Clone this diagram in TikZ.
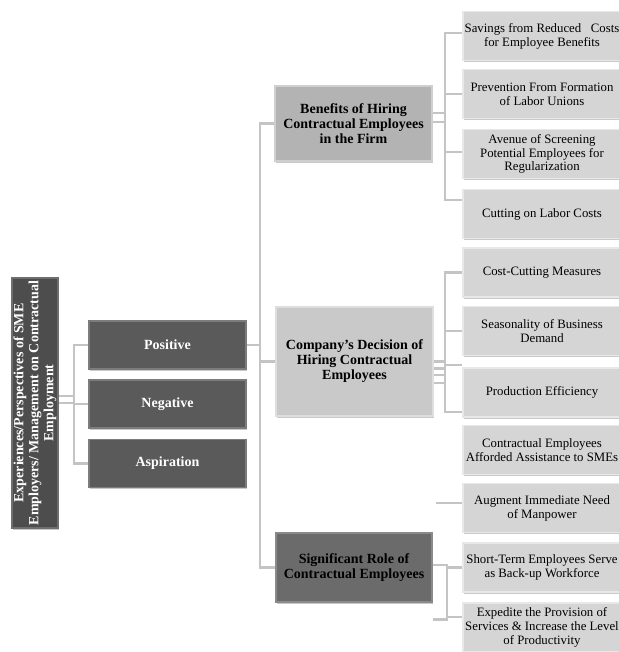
\documentclass[tikz,border=0pt]{standalone}
\usepackage{fontspec}
\setmainfont{Liberation Serif}
\usetikzlibrary{shadows}
\definecolor{rootfill}{HTML}{4D4D4D}
\definecolor{rootedge}{HTML}{6E6E6E}
\definecolor{catfill}{HTML}{5A5A5A}
\definecolor{catedge}{HTML}{7C7C7C}
\definecolor{benfill}{HTML}{B3B3B3}
\definecolor{benedge}{HTML}{CFCFCF}
\definecolor{comfill}{HTML}{C9C9C9}
\definecolor{comedge}{HTML}{DEDEDE}
\definecolor{sigfill}{HTML}{6B6B6B}
\definecolor{sigedge}{HTML}{8A8A8A}
\definecolor{leaffill}{HTML}{D5D5D5}
\definecolor{leafedge}{HTML}{E8E8E8}
\definecolor{connc}{HTML}{C4C4C4}
\begin{document}
\begin{tikzpicture}[x=0.75pt,y=-0.75pt,
  basebox/.style={rectangle, inner sep=0pt, align=center, line width=1.2pt,
    drop shadow={shadow xshift=1pt, shadow yshift=-1.2pt, opacity=0.3, fill=black!70}},
  bigfont/.style={font=\bfseries\fontsize{10.5}{11.3}\selectfont},
  rootbox/.style={basebox, fill=rootfill, draw=rootedge, minimum width=46*0.75pt, minimum height=250*0.75pt},
  catbox/.style={basebox, bigfont, fill=catfill, draw=catedge, text=white, minimum width=157*0.75pt, minimum height=48*0.75pt},
  benbox/.style={basebox, bigfont, fill=benfill, draw=benedge, minimum width=157*0.75pt, minimum height=75*0.75pt},
  combox/.style={basebox, bigfont, fill=comfill, draw=comedge, minimum width=157*0.75pt, minimum height=109*0.75pt},
  sigbox/.style={basebox, bigfont, fill=sigfill, draw=sigedge, minimum width=156*0.75pt, minimum height=69*0.75pt},
  leafbox/.style={basebox, fill=leaffill, draw=leafedge, font=\fontsize{9.6}{10.4}\selectfont,
    minimum width=158*0.75pt, minimum height=49*0.75pt},
  conn/.style={draw=connc, line width=1.6pt}]
\useasboundingbox (0,0) rectangle (618,652);

% root
\node[rootbox] (root) at (35,403) {};
\node[rotate=90, bigfont, text=white, align=center, inner sep=0pt] (roottxt) at (root.center)
  {Experiences/Perspectives of SME\\Employers/ Management on Contractual\\Employment};

% categories
\node[catbox] (pos) at (167.5,345) {Positive};
\node[catbox] (neg) at (167.5,404) {Negative};
\node[catbox] (asp) at (167.5,463.5) {Aspiration};

% themes
\node[benbox] (ben) at (353.5,123.5) {Benefits of Hiring\\Contractual Employees\\in the Firm};
\node[combox] (com) at (354.5,361.5) {Company's Decision of\\Hiring Contractual\\Employees};
\node[sigbox] (sig) at (354,567.5) {Significant Role of\\Contractual Employees};

% leaves
\node[leafbox] (r1) at (542,36) {Savings from Reduced\ \ \ Costs\\for Employee Benefits};
\node[leafbox] (r2) at (542,94) {Prevention From Formation\\of Labor Unions};
\node[leafbox] (r3) at (542,154) {Avenue of Screening\\Potential Employees for\\Regularization};
\node[leafbox] (r4) at (542,214) {Cutting on Labor Costs};
\node[leafbox] (r5) at (542,272.5) {Cost-Cutting Measures};
\node[leafbox] (r6) at (542,331) {Seasonality of Business\\Demand};
\node[leafbox] (r7) at (542,392.5) {Production Efficiency};
\node[leafbox] (r8) at (542,450) {Contractual Employees\\Afforded Assistance to SMEs};
\node[leafbox] (r9) at (542,508) {Augment Immediate Need\\of Manpower};
\node[leafbox] (r10) at (542,567.5) {Short-Term Employees Serve\\as Back-up Workforce};
\node[leafbox] (r11) at (542,627.5) {Expedite the Provision of\\Services \& Increase the Level\\of Productivity};

% bus coordinates
\coordinate (busA) at (74,0);
\coordinate (busB) at (260,0);
\coordinate (busC) at (445,0);
\coordinate (busD) at (447,0);

% root -> categories
\coordinate (ra) at ([yshift=5.25pt]root.east);
\draw[conn] (root.east) -- (root.east -| busA);
\draw[conn] (ra) -- (ra -| busA);
\draw[conn] (pos.west) -- (pos.west -| busA) -- (asp.west -| busA) -- (asp.west);
\draw[conn] (neg.west) -- (neg.west -| busA);

% positive -> themes
\draw[conn] (pos.east) -- (pos.east -| busB);
\draw[conn] (ben.west) -- (ben.west -| busB) -- (sig.west -| busB) -- (sig.west);
\draw[conn] (com.west) -- (com.west -| busB);

% benefits -> leaves
\coordinate (ba) at ([yshift=7.9pt]ben.east);
\coordinate (bb) at ([yshift=1.1pt]ben.east);
\draw[conn] (ba) -- (ba -| busC);
\draw[conn] (bb) -- (bb -| busC);
\coordinate (j1) at ([yshift=2.25pt]r1.west);
\coordinate (j4) at ([yshift=10.5pt]r4.west);
\draw[conn] (j1) -- (j1 -| busC) -- (j4 -| busC) -- (j4);
\draw[conn] (r2.west) -- (r2.west -| busC);
\draw[conn] ([yshift=1.5pt]r3.west) -- ([yshift=1.5pt]r3.west -| busC);

% company -> leaves
\coordinate (ca) at ([yshift=-5.25pt]com.east);
\coordinate (cb) at ([yshift=-10.1pt]com.east);
\coordinate (cc) at ([yshift=-16.1pt]com.east);
\draw[conn] (com.east) -- (com.east -| busC);
\draw[conn] (ca) -- (ca -| busC);
\draw[conn] (cb) -- (cb -| busC);
\draw[conn] (cc) -- (cc -| busC);
\coordinate (k7a) at ([yshift=20.6pt]r7.west);
\coordinate (k7b) at ([yshift=-14.6pt]r7.west);
\draw[conn] (r5.west) -- (r5.west -| busC) -- (k7b -| busC) -- (k7b);
\draw[conn] (r6.west) -- (r6.west -| busC);
\draw[conn] (k7a -| busC) -- (k7a);

% significant -> leaves
\coordinate (sa) at ([yshift=1.9pt]sig.east);
\coordinate (sb) at ([yshift=-39pt]sig.east);
\coordinate (j11) at ([yshift=7.9pt]r11.west);
\draw[conn] (sa) -- (sa -| busD) -- (sb -| busD) -- (sb);
\draw[conn] (r10.west) -- (r10.west -| busD);
\draw[conn] (j11 -| busD) -- (j11);
\coordinate (f9) at (436,503);
\draw[conn] (f9) -- (f9 -| r9.west);
\end{tikzpicture}
\end{document}
